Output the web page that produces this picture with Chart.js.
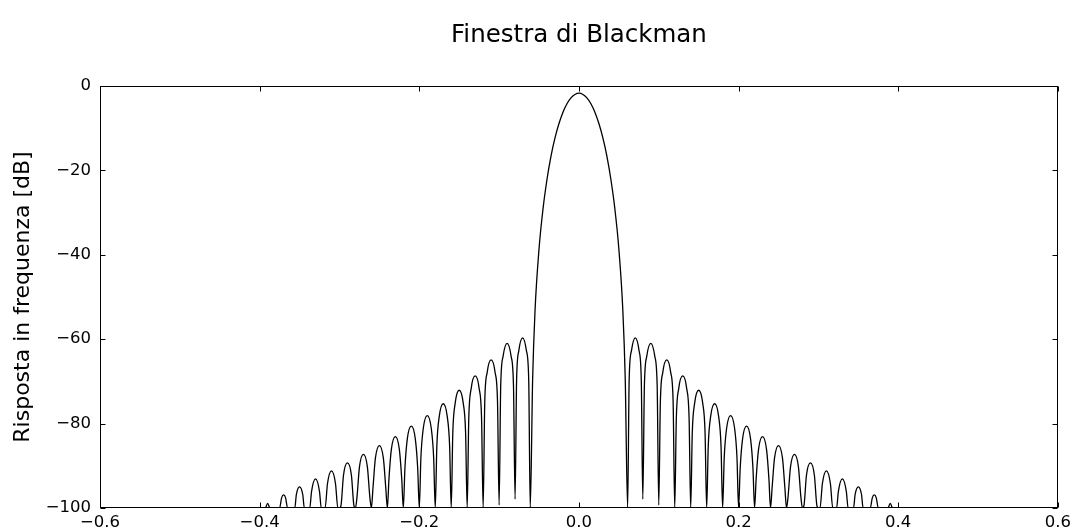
<!DOCTYPE html>
<html>
<head>
<meta charset="utf-8">
<script src="https://cdn.jsdelivr.net/npm/chart.js@4/dist/chart.umd.min.js"></script>
<style>
  body { margin: 0; background: #fff; }
  #grafico { display: block; }
</style>
</head>
<body>
<canvas id="grafico" width="1076" height="532"></canvas>
<script>
// Risposta in frequenza della finestra di Blackman, coppie [frequenza, dB]
// Lobi laterali a sinistra (il segnale sotto -100 dB e' tagliato a -100)
var lobiSinistri = [
  [-0.5, -100], [-0.4, -100],
  [-0.393, -100], [-0.39, -98.9], [-0.387, -100], [-0.38, -100],
  [-0.375, -100], [-0.3725, -97.6], [-0.37, -96.9], [-0.3675, -97.6], [-0.365, -100], [-0.36, -100],
  [-0.356, -100], [-0.354, -96.8], [-0.35, -95.0], [-0.346, -96.8], [-0.344, -100], [-0.34, -100],
  [-0.3372, -100], [-0.335, -96.1], [-0.33, -93.1], [-0.325, -96.1], [-0.3228, -100], [-0.32, -100],
  [-0.318, -100], [-0.315, -94.2], [-0.31, -91.2], [-0.305, -94.2], [-0.302, -100], [-0.30, -100],
  [-0.298, -99.3], [-0.295, -92.3], [-0.29, -89.3], [-0.285, -92.3], [-0.282, -99.3], [-0.28, -100],
  [-0.278, -97.3], [-0.275, -90.3], [-0.27, -87.3], [-0.265, -90.3], [-0.262, -97.3], [-0.26, -100],
  [-0.258, -95.2], [-0.255, -88.2], [-0.25, -85.2], [-0.245, -88.2], [-0.242, -95.2], [-0.24, -100],
  [-0.238, -93.1], [-0.235, -86.1], [-0.23, -83.1], [-0.225, -86.1], [-0.222, -93.1], [-0.22, -100],
  [-0.218, -90.6], [-0.215, -83.6], [-0.21, -80.6], [-0.205, -83.6], [-0.202, -90.6], [-0.20, -100],
  [-0.198, -88.1], [-0.195, -81.1], [-0.19, -78.1], [-0.185, -81.1], [-0.182, -88.1], [-0.18, -100],
  [-0.178, -85.3], [-0.175, -78.3], [-0.17, -75.3], [-0.165, -78.3], [-0.162, -85.3], [-0.16, -100],
  [-0.158, -82.1], [-0.155, -75.1], [-0.15, -72.1], [-0.145, -75.1], [-0.142, -82.1], [-0.14, -100],
  [-0.138, -78.7], [-0.135, -71.7], [-0.13, -68.7], [-0.125, -71.7], [-0.122, -78.7], [-0.12, -100],
  [-0.118, -74.9], [-0.115, -67.9], [-0.11, -64.9], [-0.105, -67.9], [-0.102, -74.9], [-0.10, -99.3],
  [-0.098, -71.0], [-0.095, -64.0], [-0.09, -61.0], [-0.085, -64.0], [-0.082, -71.0], [-0.08, -97.9],
  [-0.0781, -69.7], [-0.0753, -62.7], [-0.0705, -59.7], [-0.0658, -62.7], [-0.0629, -69.7]
];

// Lobo principale
var loboPrincipale = [
  [-0.061, -100], [-0.058, -69.4], [-0.055, -53.2], [-0.05, -38.6], [-0.045, -29.1],
  [-0.04, -22.1], [-0.035, -16.6], [-0.03, -12.3], [-0.025, -8.9], [-0.02, -6.2],
  [-0.015, -4.2], [-0.01, -2.8], [-0.005, -2.0], [0, -1.7],
  [0.005, -2.0], [0.01, -2.8], [0.015, -4.2], [0.02, -6.2], [0.025, -8.9],
  [0.03, -12.3], [0.035, -16.6], [0.04, -22.1], [0.045, -29.1], [0.05, -38.6],
  [0.055, -53.2], [0.058, -69.4], [0.061, -100]
];

// Lobi laterali a destra
var lobiDestri = [
  [0.0629, -69.7], [0.0658, -62.7], [0.0705, -59.7], [0.0753, -62.7], [0.0781, -69.7], [0.08, -97.9],
  [0.082, -71.0], [0.085, -64.0], [0.09, -61.0], [0.095, -64.0], [0.098, -71.0], [0.10, -99.3],
  [0.102, -74.9], [0.105, -67.9], [0.11, -64.9], [0.115, -67.9], [0.118, -74.9], [0.12, -100],
  [0.122, -78.7], [0.125, -71.7], [0.13, -68.7], [0.135, -71.7], [0.138, -78.7], [0.14, -100],
  [0.142, -82.1], [0.145, -75.1], [0.15, -72.1], [0.155, -75.1], [0.158, -82.1], [0.16, -100],
  [0.162, -85.3], [0.165, -78.3], [0.17, -75.3], [0.175, -78.3], [0.178, -85.3], [0.18, -100],
  [0.182, -88.1], [0.185, -81.1], [0.19, -78.1], [0.195, -81.1], [0.198, -88.1], [0.20, -100],
  [0.202, -90.6], [0.205, -83.6], [0.21, -80.6], [0.215, -83.6], [0.218, -90.6], [0.22, -100],
  [0.222, -93.1], [0.225, -86.1], [0.23, -83.1], [0.235, -86.1], [0.238, -93.1], [0.24, -100],
  [0.242, -95.2], [0.245, -88.2], [0.25, -85.2], [0.255, -88.2], [0.258, -95.2], [0.26, -100],
  [0.262, -97.3], [0.265, -90.3], [0.27, -87.3], [0.275, -90.3], [0.278, -97.3], [0.28, -100],
  [0.282, -99.3], [0.285, -92.3], [0.29, -89.3], [0.295, -92.3], [0.298, -99.3], [0.30, -100],
  [0.302, -100], [0.305, -94.2], [0.31, -91.2], [0.315, -94.2], [0.318, -100], [0.32, -100],
  [0.3228, -100], [0.325, -96.1], [0.33, -93.1], [0.335, -96.1], [0.3372, -100], [0.34, -100],
  [0.344, -100], [0.346, -96.8], [0.35, -95.0], [0.354, -96.8], [0.356, -100], [0.36, -100],
  [0.365, -100], [0.3675, -97.6], [0.37, -96.9], [0.3725, -97.6], [0.375, -100], [0.38, -100],
  [0.387, -100], [0.39, -98.9], [0.393, -100],
  [0.4, -100], [0.5, -100]
];

// Etichette degli assi
var tickX = [-0.6, -0.4, -0.2, 0, 0.2, 0.4, 0.6];
var tickY = [-100, -80, -60, -40, -20, 0];
var titolo = "Finestra di Blackman";

function meno(s) {
  return String(s).replace("-", "\u2212");
}

// Titolo centrato sull'area del grafico, cornice e tacche verso l'interno
var cornice = {
  id: "cornice",
  afterDatasetsDraw: function(chart) {
    var ctx = chart.ctx;
    var a = chart.chartArea;
    var sx = chart.scales.x;
    var sy = chart.scales.y;
    var l = Math.round(a.left) + 0.5;
    var r = Math.round(a.right) - 0.5;
    var t = Math.round(a.top) + 0.5;
    var b = Math.round(a.bottom) - 0.5;
    var lung = 5;
    ctx.save();
    ctx.strokeStyle = "#000";
    ctx.lineWidth = 1;
    ctx.strokeRect(l, t, r - l, b - t);
    ctx.beginPath();
    tickX.forEach(function(v) {
      var px = Math.round(sx.getPixelForValue(v)) + 0.5;
      ctx.moveTo(px, b); ctx.lineTo(px, b - lung);
      ctx.moveTo(px, t); ctx.lineTo(px, t + lung);
    });
    tickY.forEach(function(v) {
      var py = Math.round(sy.getPixelForValue(v)) + 0.5;
      ctx.moveTo(l, py); ctx.lineTo(l + lung, py);
      ctx.moveTo(r, py); ctx.lineTo(r - lung, py);
    });
    ctx.stroke();

    ctx.fillStyle = "#000";
    ctx.font = "24.5px 'DejaVu Sans', sans-serif";
    ctx.textAlign = "center";
    ctx.textBaseline = "alphabetic";
    ctx.fillText(titolo, (a.left + a.right) / 2, 42);
    ctx.restore();
  }
};

document.addEventListener("DOMContentLoaded", function() {
  Chart.defaults.font.family = "'DejaVu Sans', sans-serif";
  Chart.defaults.color = "#000";

  var punti = lobiSinistri.concat(loboPrincipale, lobiDestri).map(function(p) {
    return { x: p[0], y: p[1] };
  });

  new Chart(document.getElementById("grafico"), {
    type: "line",
    data: {
      datasets: [{
        data: punti,
        borderColor: "#000",
        borderWidth: 1.3,
        pointRadius: 0,
        fill: false,
        cubicInterpolationMode: "monotone"
      }]
    },
    options: {
      responsive: false,
      animation: false,
      layout: { padding: { left: 0, right: 18, top: 86, bottom: 0 } },
      plugins: {
        legend: { display: false },
        tooltip: { enabled: false },
        title: { display: false }
      },
      scales: {
        x: {
          type: "linear",
          min: -0.6,
          max: 0.6,
          grid: { display: false, drawTicks: false },
          border: { display: false },
          afterBuildTicks: function(scale) {
            scale.ticks = tickX.map(function(v) { return { value: v }; });
          },
          afterFit: function(scale) { scale.height = 24; },
          ticks: {
            font: { size: 16.5 },
            padding: 5,
            maxRotation: 0,
            autoSkip: false,
            callback: function(v) { return meno(Number(v).toFixed(1)); }
          }
        },
        y: {
          type: "linear",
          min: -100,
          max: 0,
          grid: { display: false, drawTicks: false },
          border: { display: false },
          afterBuildTicks: function(scale) {
            scale.ticks = tickY.map(function(v) { return { value: v }; });
          },
          afterFit: function(scale) { scale.width = 100; },
          ticks: {
            font: { size: 16.5 },
            padding: 9,
            autoSkip: false,
            callback: function(v) { return meno(v); }
          },
          title: {
            display: true,
            text: "Risposta in frequenza [dB]",
            font: { size: 22 },
            padding: { top: 10, bottom: 0 }
          }
        }
      }
    },
    plugins: [cornice]
  });
});
</script>
</body>
</html>
